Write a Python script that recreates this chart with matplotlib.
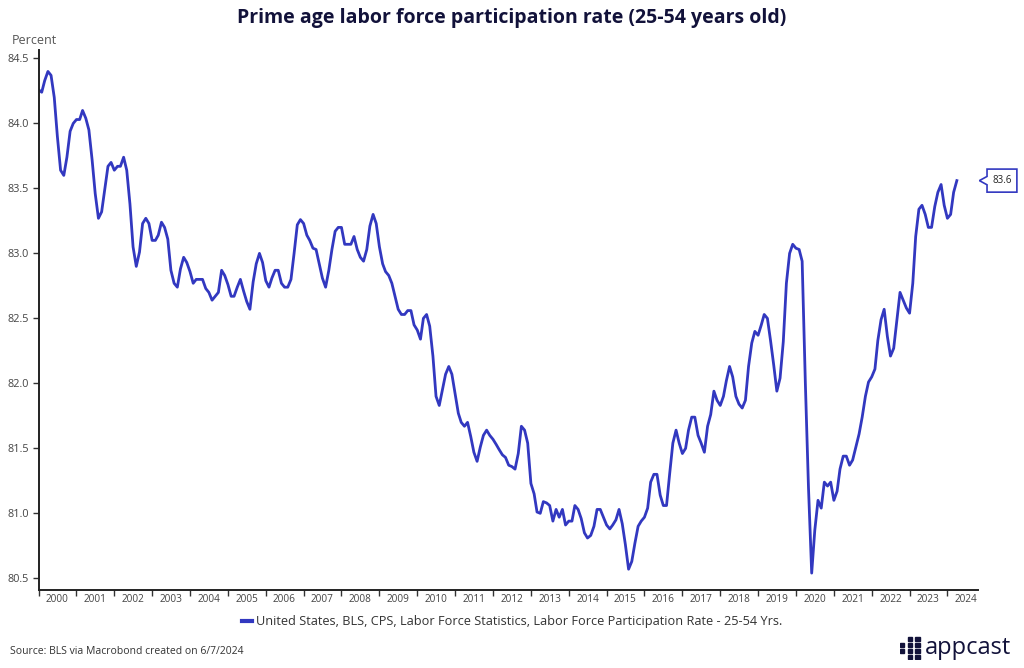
import pandas as pd
import matplotlib
matplotlib.use('Agg')
import matplotlib.pyplot as plt
import matplotlib.dates as mdates
import matplotlib.transforms as mtransforms
from matplotlib.patches import Polygon, Rectangle

# Prime age (25-54) labor force participation rate, monthly
y2000 = [84.26, 84.24, 84.33, 84.40, 84.37, 84.20, 83.90, 83.64, 83.60, 83.74, 83.94, 84.00]
y2001 = [84.03, 84.03, 84.10, 84.04, 83.95, 83.72, 83.46, 83.27, 83.32, 83.49, 83.67, 83.70]
y2002 = [83.64, 83.67, 83.67, 83.74, 83.64, 83.38, 83.05, 82.90, 83.01, 83.23, 83.27, 83.23]
y2003 = [83.10, 83.10, 83.14, 83.24, 83.20, 83.11, 82.87, 82.77, 82.74, 82.88, 82.97, 82.93]
y2004 = [82.86, 82.77, 82.80, 82.80, 82.80, 82.73, 82.70, 82.64, 82.67, 82.70, 82.87, 82.83]
y2005 = [82.76, 82.67, 82.67, 82.74, 82.80, 82.71, 82.63, 82.57, 82.78, 82.92, 83.00, 82.93]
y2006 = [82.79, 82.74, 82.81, 82.87, 82.87, 82.77, 82.74, 82.74, 82.80, 83.00, 83.22, 83.26]
y2007 = [83.23, 83.14, 83.10, 83.04, 83.03, 82.92, 82.81, 82.74, 82.87, 83.03, 83.17, 83.20]
y2008 = [83.20, 83.07, 83.07, 83.07, 83.13, 83.03, 82.97, 82.94, 83.03, 83.21, 83.30, 83.23]
y2009 = [83.05, 82.92, 82.86, 82.83, 82.77, 82.67, 82.57, 82.53, 82.53, 82.56, 82.56, 82.45]
y2010 = [82.41, 82.34, 82.50, 82.53, 82.44, 82.21, 81.90, 81.83, 81.95, 82.07, 82.13, 82.07]
y2011 = [81.92, 81.77, 81.70, 81.67, 81.70, 81.59, 81.47, 81.40, 81.51, 81.60, 81.64, 81.60]
y2012 = [81.57, 81.53, 81.49, 81.45, 81.43, 81.37, 81.36, 81.34, 81.46, 81.67, 81.64, 81.54]
y2013 = [81.23, 81.15, 81.01, 81.00, 81.09, 81.08, 81.06, 80.94, 81.03, 80.97, 81.03, 80.91]
y2014 = [80.94, 80.94, 81.06, 81.03, 80.96, 80.85, 80.81, 80.83, 80.90, 81.03, 81.03, 80.97]
y2015 = [80.91, 80.88, 80.91, 80.95, 81.03, 80.92, 80.76, 80.57, 80.63, 80.77, 80.90, 80.94]
y2016 = [80.97, 81.04, 81.24, 81.30, 81.30, 81.14, 81.06, 81.06, 81.31, 81.54, 81.64, 81.54]
y2017 = [81.46, 81.50, 81.64, 81.74, 81.74, 81.60, 81.54, 81.47, 81.67, 81.76, 81.94, 81.87]
y2018 = [81.83, 81.90, 82.02, 82.13, 82.05, 81.90, 81.84, 81.81, 81.87, 82.13, 82.31, 82.40]
y2019 = [82.37, 82.45, 82.53, 82.50, 82.33, 82.14, 81.94, 82.04, 82.32, 82.77, 83.00, 83.07]
y2020 = [83.04, 83.03, 82.94, 82.00, 81.20, 80.54, 80.87, 81.10, 81.04, 81.24, 81.21, 81.24]
y2021 = [81.10, 81.17, 81.34, 81.44, 81.44, 81.37, 81.41, 81.51, 81.61, 81.74, 81.90, 82.01]
y2022 = [82.05, 82.11, 82.33, 82.49, 82.57, 82.36, 82.21, 82.27, 82.49, 82.70, 82.64, 82.58]
y2023 = [82.54, 82.77, 83.13, 83.34, 83.37, 83.30, 83.20, 83.20, 83.36, 83.47, 83.53, 83.37]
y2024 = [83.27, 83.30, 83.47, 83.56]

values = (y2000 + y2001 + y2002 + y2003 + y2004 + y2005 + y2006 + y2007 + y2008
          + y2009 + y2010 + y2011 + y2012 + y2013 + y2014 + y2015 + y2016 + y2017
          + y2018 + y2019 + y2020 + y2021 + y2022 + y2023 + y2024)
dates = pd.date_range('2000-01-01', periods=len(values), freq='MS')

y_ticks = [80.5, 81.0, 81.5, 82.0, 82.5, 83.0, 83.5, 84.0, 84.5]

title = 'Prime age labor force participation rate (25-54 years old)'
series_name = 'United States, BLS, CPS, Labor Force Statistics, Labor Force Participation Rate - 25-54 Yrs.'
source = 'Source: BLS via Macrobond created on 6/7/2024'

line_color = '#3238c0'
navy = '#12123a'
grey = '#444444'

plt.rcParams['font.family'] = ['Open Sans', 'DejaVu Sans']

fig = plt.figure(figsize=(10.24, 6.68), dpi=100)
ax = fig.add_axes([38.5 / 1024, 78 / 668, 939.5 / 1024, 540 / 668])

ax.plot(dates, values, color=line_color, lw=2.0, solid_joinstyle='round')

ax.set_xlim(pd.Timestamp('2000-01-01'), pd.Timestamp('2024-10-22'))
ax.set_ylim(80.41, 84.565)

ax.xaxis.set_major_locator(mdates.YearLocator(1))
ax.xaxis.set_major_formatter(plt.NullFormatter())
ax.xaxis.set_minor_locator(mdates.YearLocator(1, month=7, day=1))
ax.xaxis.set_minor_formatter(mdates.DateFormatter('%Y'))
ax.tick_params(axis='x', which='major', length=4, width=1, color='#333333', direction='out')
ax.tick_params(axis='x', which='minor', length=0, pad=3, labelsize=7.2, labelcolor=grey)

ax.set_yticks(y_ticks)
ax.set_yticklabels([f'{v:.1f}' for v in y_ticks])
ax.tick_params(axis='y', length=4, width=1, color='#333333', labelsize=7.8, labelcolor=grey, pad=3)

for s in ['top', 'right']:
    ax.spines[s].set_visible(False)
ax.spines['left'].set_linewidth(1.4)
ax.spines['bottom'].set_linewidth(1.4)
ax.spines['left'].set_color('#222222')
ax.spines['bottom'].set_color('#222222')

fig.text(0.5, 1 - 18 / 668, title, ha='center', va='center', fontsize=14,
         fontweight='bold', color=navy)
fig.text(12 / 1024, 1 - 40 / 668, 'Percent', ha='left', va='center', fontsize=9, color='#555555')

# last value callout box
last = values[-1]
anchor = mtransforms.blended_transform_factory(ax.transAxes, ax.transData)
pts = mtransforms.Affine2D().scale(fig.dpi / 72) + mtransforms.ScaledTranslation(1.0, last, anchor)
tag = Polygon([(1, 0), (6.5, 3), (6.5, 8.3), (28, 8.3), (28, -8.3), (6.5, -8.3), (6.5, -3)],
              closed=True, transform=pts, facecolor='white', edgecolor=line_color,
              lw=1.2, clip_on=False)
ax.add_patch(tag)
ax.annotate(f'{last:.1f}', xy=(1.0, last), xycoords=anchor, xytext=(17.2, 0),
            textcoords='offset points', ha='center', va='center', fontsize=7, color='#222222',
            annotation_clip=False)

# legend
leg = fig.legend([plt.Line2D([], [], color=line_color, lw=3)], [series_name],
                 loc='center', bbox_to_anchor=(0.5, 1 - 622 / 668), frameon=False,
                 fontsize=9.2, handlelength=0.8, handletextpad=0.3)
for t in leg.get_texts():
    t.set_color('#333333')

fig.text(10 / 1024, 1 - 651 / 668, source, ha='left', va='center', fontsize=7.5, color='#333333')

# appcast logo
logo = fig.add_axes([900 / 1024, 8 / 668, 22 / 1024, 24 / 668])
logo.set_xlim(0, 4)
logo.set_ylim(0, 4)
logo.axis('off')
for cx, cy in [(0, 2), (0, 1), (1.4, 3), (1.4, 2), (1.4, 1), (1.4, 0), (2.8, 3), (2.8, 2), (2.8, 1), (2.8, 0)]:
    logo.add_patch(Rectangle((cx, cy + 0.15), 0.75, 0.7, color=navy))
fig.text(925 / 1024, 1 - 648 / 668, 'appcast', ha='left', va='center', fontsize=17, color=navy)

fig.savefig('out.png', dpi=100)
